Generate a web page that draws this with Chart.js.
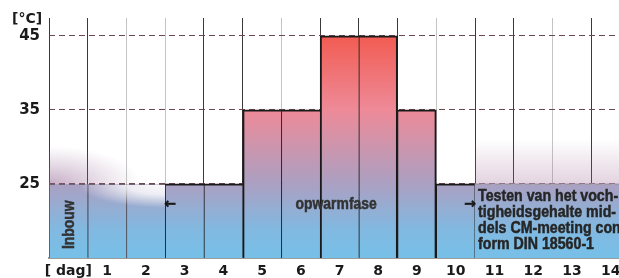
<!DOCTYPE html>
<html>
<head>
<meta charset="utf-8">
<script src="https://cdn.jsdelivr.net/npm/chart.js@4/dist/chart.umd.min.js"></script>
<style>
  html, body { margin: 0; padding: 0; background: #fff; overflow: hidden; }
  #wrap { width: 630px; height: 278px; }
</style>
</head>
<body>
<div id="wrap"><canvas id="tempChart"></canvas></div>
<script>
// dagen en temperatuur per dag (stap-functie)
const days = ['[ dag]', '1', '2', '3', '4', '5', '6', '7', '8', '9', '10', '11', '12', '13', '14'];
const temps = [25, 25, 25, 25, 25, 35, 35, 45, 45, 35, 25, 25, 25, 25, 25];
const yTicks = [25, 35, 45];
const heatDays = [3, 10];          // eerste en laatste dag van de opwarmfase
const lightGrid = [2, 3, 6, 10, 13]; // lichtgrijze verticale lijnen
const testLines = ['Testen van het voch-', 'tigheidsgehalte mid-', 'dels CM-meeting con', 'form DIN 18560-1'];

const sans = '"Liberation Sans", Arial, sans-serif';

function inHeat(i) { return i >= heatDays[0] && i <= heatDays[1]; }

function fillGradient(chart) {
  const area = chart.chartArea;
  if (!area) return '#a9a2c4';
  const y = chart.scales.y;
  const g = chart.ctx.createLinearGradient(0, area.top, 0, area.bottom);
  const t = v => Math.min(1, Math.max(0, (y.getPixelForValue(v) - area.top) / (area.bottom - area.top)));
  g.addColorStop(0, '#f25a4e');
  g.addColorStop(t(45), '#f25c52');
  g.addColorStop(t(35), '#ee8a98');
  g.addColorStop(t(25), '#aba0c2');
  g.addColorStop(t(19), '#82b8e0');
  g.addColorStop(1, '#76c0e8');
  return g;
}

function borders(i) {
  if (i > heatDays[1]) return 0;
  if (!inHeat(i)) return { left: 1, top: 0, right: 0, bottom: 0 };
  const prev = temps[i - 1], next = temps[i + 1];
  return {
    left: temps[i] > prev ? 2 : 1,
    top: 2,
    right: temps[i] > next ? 2 : (i === heatDays[1] ? 1 : 0),
    bottom: 0
  };
}

// smalle tekst: horizontaal samengedrukt
function narrowText(ctx, s, x, y, size, sx, align) {
  ctx.save();
  ctx.translate(x, y);
  ctx.scale(sx, 1);
  ctx.font = 'bold ' + size + 'px ' + sans;
  ctx.textAlign = align;
  ctx.lineWidth = 0.5;
  ctx.strokeStyle = ctx.fillStyle;
  ctx.fillText(s, 0, 0);
  ctx.strokeText(s, 0, 0);
  ctx.restore();
}

const decor = {
  id: 'decor',
  afterDatasetsDraw(chart) {
    const { ctx, chartArea: a, scales: { x, y } } = chart;
    const half = (x.getPixelForValue(1) - x.getPixelForValue(0)) / 2;
    const y25 = y.getPixelForValue(25);
    const left = a.left;
    const heatL = x.getPixelForValue(heatDays[0]) - half;
    const heatR = x.getPixelForValue(heatDays[1]) + half;

    ctx.save();
    ctx.beginPath();
    ctx.rect(a.left, a.top, a.right - a.left, a.bottom - a.top);
    ctx.clip();

    // paarse waas boven 25 links
    ctx.save();
    ctx.beginPath();
    ctx.rect(left, y25 - 60, heatL - left, 60);
    ctx.clip();
    ctx.translate(left, y25);
    ctx.scale(2.4, 1);
    let rg = ctx.createRadialGradient(0, 0, 0, 0, 0, 38);
    rg.addColorStop(0, 'rgba(140,90,140,0.5)');
    rg.addColorStop(0.5, 'rgba(150,105,150,0.25)');
    rg.addColorStop(1, 'rgba(160,120,160,0)');
    ctx.fillStyle = rg;
    ctx.fillRect(0, -40, 60, 40);
    ctx.restore();

    // witte mist onder 25 links
    ctx.save();
    ctx.beginPath();
    ctx.rect(left, y25 + 0.5, heatL - left, 40);
    ctx.clip();
    ctx.translate(heatL, y25);
    ctx.scale(3.6, 1);
    rg = ctx.createRadialGradient(0, 0, 0, 0, 0, 24);
    rg.addColorStop(0, 'rgba(255,255,255,0.95)');
    rg.addColorStop(0.45, 'rgba(255,255,255,0.8)');
    rg.addColorStop(1, 'rgba(255,255,255,0)');
    ctx.fillStyle = rg;
    ctx.fillRect(-30, -5, 30, 30);
    ctx.restore();

    // waas boven 25 rechts
    let g = ctx.createLinearGradient(0, y25, 0, y25 - 45);
    g.addColorStop(0, 'rgba(160,110,150,0.3)');
    g.addColorStop(1, 'rgba(160,110,150,0)');
    ctx.fillStyle = g;
    ctx.fillRect(heatR, y25 - 45, a.right - heatR + 20, 45);
    ctx.restore();

    // gestippelde 25-lijn over de mist
    ctx.save();
    ctx.setLineDash([6, 4]);
    ctx.lineWidth = 1;
    ctx.strokeStyle = '#6e6068';
    ctx.beginPath();
    ctx.moveTo(left, y25 + 0.5);
    ctx.lineTo(heatL, y25 + 0.5);
    ctx.stroke();
    ctx.strokeStyle = '#9a9a9a';
    ctx.beginPath();
    ctx.moveTo(heatR, y25 + 0.5);
    ctx.lineTo(a.right + 20, y25 + 0.5);
    ctx.stroke();
    ctx.restore();

    // teksten
    ctx.save();
    ctx.fillStyle = '#1a1a1a';
    ctx.font = 'bold 14px "DejaVu Sans", sans-serif';
    ctx.textAlign = 'left';
    ctx.textBaseline = 'top';
    ctx.fillText('[°C]', 12, 12);

    ctx.textBaseline = 'middle';
    const yTxt = y.getPixelForValue(22.2);
    ctx.fillStyle = '#333';
    narrowText(ctx, 'opwarmfase', (heatL + heatR) / 2 + 16, yTxt, 16, 0.87, 'center');

    ctx.font = 'bold 14px "DejaVu Sans", sans-serif';
    ctx.fillStyle = '#1a1a1a';
    ctx.strokeStyle = '#1a1a1a';
    ctx.lineWidth = 0.6;
    ctx.textAlign = 'left';
    ctx.fillText('\u2190', heatL - 1, yTxt);
    ctx.strokeText('\u2190', heatL - 1, yTxt);
    ctx.textAlign = 'right';
    ctx.fillText('\u2192', heatR + 1, yTxt);
    ctx.strokeText('\u2192', heatR + 1, yTxt);

    ctx.fillStyle = '#262626';
    ctx.textBaseline = 'alphabetic';
    testLines.forEach((s, k) => narrowText(ctx, s, heatR + 3, y25 + 17 + k * 16, 16.5, 0.86, 'left'));

    ctx.save();
    ctx.translate(x.getPixelForValue(0) + 1, y.getPixelForValue(19.5));
    ctx.rotate(-Math.PI / 2);
    ctx.textBaseline = 'middle';
    ctx.fillStyle = '#333';
    narrowText(ctx, 'Inbouw', 0, 0, 16, 0.87, 'center');
    ctx.restore();
    ctx.restore();
  }
};

new Chart(document.getElementById('tempChart'), {
  type: 'bar',
  data: {
    labels: days,
    datasets: [{
      data: temps,
      backgroundColor: c => fillGradient(c.chart),
      borderColor: c => inHeat(c.dataIndex) ? '#1a1a1a' : '#3c3c48',
      borderWidth: c => borders(c.dataIndex),
      borderSkipped: false,
      barPercentage: 1,
      categoryPercentage: 1
    }]
  },
  options: {
    responsive: true,
    maintainAspectRatio: false,
    animation: false,
    events: [],
    layout: { padding: { top: 17, right: 0, left: 0, bottom: 0 } },
    plugins: { legend: { display: false }, tooltip: { enabled: false } },
    scales: {
      x: {
        offset: true,
        afterFit: s => { s.height = 20; },
        grid: {
          offset: true,
          drawTicks: false,
          lineWidth: 1,
          color: c => lightGrid.includes(c.index) ? '#c4c4c4' : '#3a3a3a'
        },
        border: { display: true, color: '#9c9c9c', width: 2 },
        ticks: {
          color: '#1a1a1a',
          padding: 5,
          maxRotation: 0,
          autoSkip: false,
          font: { family: '"DejaVu Sans", sans-serif', size: 14, weight: 'bold' }
        }
      },
      y: {
        min: 15,
        max: 47.4,
        afterFit: s => { s.width = 49; },
        afterBuildTicks: s => { s.ticks = yTicks.map(v => ({ value: v })); },
        grid: {
          drawTicks: false,
          color: '#6b4a50',
          lineWidth: 1
        },
        border: { display: false, dash: [6, 4] },
        ticks: {
          color: '#1a1a1a',
          padding: 9,
          font: { family: '"DejaVu Sans", sans-serif', size: 15, weight: 'bold' }
        }
      }
    }
  },
  plugins: [decor]
});
</script>
</body>
</html>
